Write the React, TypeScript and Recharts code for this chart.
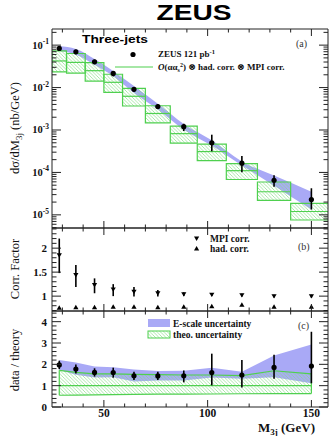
import React from 'react';
import { ComposedChart, XAxis, YAxis, Scatter, ErrorBar, Area, ReferenceArea, ReferenceLine } from 'recharts';

// ---- data ----
const binCenters = [28.5, 36.5, 45.5, 54.5, 64.5, 76, 88.5, 102, 116.5, 132, 150];
const binLow = [25, 32, 41, 50, 59, 70, 82, 95, 109, 124, 140];
const binHigh = [32, 41, 50, 59, 70, 82, 95, 109, 124, 140, 160];
const zeusXsec = [0.0836, 0.0697, 0.0405, 0.0215, 0.0091, 0.00357, 0.0012, 5.0e-4, 1.65e-4, 6.5e-5, 2.3e-5];
const zeusErrUp = [0.1, 0.12, 0.12, 0.14, 0.13, 0.13, 0.17, 0.55, 0.47, 0.32, 0.84];
const zeusErrDown = [0.1, 0.12, 0.12, 0.15, 0.13, 0.13, 0.21, 0.37, 0.39, 0.29, 0.42];
const escaleUp = [1.12, 1.17, 1.17, 1.15, 1.2, 1.16, 1.16, 1.14, 1.1, 1.3, 1.53];
const escaleDown = [0.88, 0.85, 0.85, 0.86, 0.82, 0.85, 0.85, 0.86, 0.88, 0.75, 0.58];
const theoryXsec = [0.0424, 0.0392, 0.025, 0.0133, 0.00623, 0.00245, 8.2e-4, 3.1e-4, 1.1e-4, 3.5e-5, 1.2e-5];
const theoryUp = [1.72, 1.62, 1.55, 1.55, 1.53, 1.52, 1.5, 1.5, 1.47, 1.7, 1.55];
const theoryDown = [0.55, 0.56, 0.57, 0.58, 0.59, 0.6, 0.6, 0.61, 0.62, 0.63, 0.63];
const mpiCorr = [1.85, 1.44, 1.23, 1.14, 1.09, 1.06, 1.04, 1.03, 1.02, 1.0, 1.0];
const mpiErrUp = [0.35, 0.21, 0.14, 0.11, 0.1, 0.07, 0.04, 0.03, 0.03, 0.03, 0.03];
const mpiErrDown = [0.37, 0.25, 0.17, 0.14, 0.1, 0.07, 0.04, 0.03, 0.03, 0.03, 0.03];
const hadCorr = [0.76, 0.77, 0.77, 0.78, 0.78, 0.77, 0.78, 0.79, 0.82, 0.78, 0.78];

const xMajorTicks = [50, 100, 150];
const xMinorTicks = [30, 40, 60, 70, 80, 90, 110, 120, 130, 140];
const corrMajorTicks = [1, 1.5, 2];
const ratioMajorTicks = [0, 1, 2, 3, 4];

const X_DOMAIN: [number, number] = [25, 158];
const A_DOMAIN: [number, number] = [4.9e-6, 0.24];
const B_DOMAIN: [number, number] = [0.69, 2.42];
const C_DOMAIN: [number, number] = [0, 4.5];

const GREEN = '#4fd04f';
const BLUE = '#a9a9f6';
const AXIS = '#222';
const FONT = "'Liberation Serif', 'DejaVu Serif', serif";
const SANS = "'Liberation Sans', Arial, sans-serif";

// ---- derived tables ----
const rows = binCenters.map((x, i) => {
  const y = zeusXsec[i];
  const ratio = y / theoryXsec[i];
  return {
    x,
    y,
    err: [y * zeusErrDown[i], y * zeusErrUp[i]],
    es: [y * escaleDown[i], y * escaleUp[i]],
    ratio,
    ratioErr: [ratio * zeusErrDown[i], ratio * zeusErrUp[i]],
    ratioEs: [ratio * escaleDown[i], ratio * escaleUp[i]],
    theoBand: [theoryDown[i], theoryUp[i]],
    mpi: mpiCorr[i],
    mpiErr: [mpiErrDown[i], mpiErrUp[i]],
    had: hadCorr[i],
  };
});

const xTicks = [...xMajorTicks, ...xMinorTicks].sort((a, b) => a - b);

const logTicks: number[] = [];
for (let d = -6; d <= -1; d++) {
  for (let k = 1; k <= 9; k++) {
    const v = k * Math.pow(10, d);
    if (v >= A_DOMAIN[0] && v <= A_DOMAIN[1]) logTicks.push(v);
  }
}
const isDecade = (v: number) => Math.abs(Math.log10(v) - Math.round(Math.log10(v))) < 1e-6;

const linTicks = (lo: number, hi: number, step: number) => {
  const out: number[] = [];
  for (let v = Math.ceil(lo / step - 1e-9) * step; v <= hi + 1e-9; v += step) out.push(Math.round(v * 1000) / 1000);
  return out;
};
const bTicks = linTicks(B_DOMAIN[0], B_DOMAIN[1], 0.1);
const cTicks = linTicks(C_DOMAIN[0], C_DOMAIN[1], 0.2);

const near = (arr: number[], v: number) => arr.some((a) => Math.abs(a - v) < 1e-6);

// tick renderer factory: ticks drawn inward from the frame
type Orient = 'left' | 'right' | 'top' | 'bottom';
const makeTick = (
  orient: Orient,
  isMajor: (v: number) => boolean,
  majorLen: number,
  minorLen: number,
  label?: (v: number, x: number, y: number) => React.ReactNode
) => (props: any) => {
  const { x, y, payload } = props;
  const v = payload.value;
  const len = isMajor(v) ? majorLen : minorLen;
  let x2 = x, y2 = y;
  if (orient === 'left') x2 = x + len;
  if (orient === 'right') x2 = x - len;
  if (orient === 'top') y2 = y + len;
  if (orient === 'bottom') y2 = y - len;
  return (
    <g>
      <line x1={x} y1={y} x2={x2} y2={y2} stroke={AXIS} strokeWidth={1} />
      {label && isMajor(v) ? label(v, x, y) : null}
    </g>
  );
};

const isXMajor = (v: number) => near(xMajorTicks, v);

const logLabel = (v: number, x: number, y: number) => (
  <text x={x - 3} y={y + 3.5} textAnchor="end" fontFamily={FONT} fontWeight="bold" fontSize={10.5} fill="#111">
    10
    <tspan dy={-4.5} fontSize={7.5}>{String(Math.round(Math.log10(v)))}</tspan>
  </text>
);
const numLabel = (v: number, x: number, y: number) => (
  <text x={x - 5} y={y + 4} textAnchor="end" fontFamily={FONT} fontWeight="bold" fontSize={11} fill="#111">
    {String(v)}
  </text>
);
const xLabel = (v: number, x: number, y: number) => (
  <text x={x} y={y + 10} textAnchor="middle" fontFamily={FONT} fontWeight="bold" fontSize={11.5} fill="#111">
    {String(v)}
  </text>
);

const dot = (p: any) => <circle cx={p.cx} cy={p.cy} r={2.6} fill="#000" />;
const triDown = (p: any) => (
  <path d={`M${p.cx - 2.6},${p.cy - 2} L${p.cx + 2.6},${p.cy - 2} L${p.cx},${p.cy + 2.4} Z`} fill="#000" />
);
const triUp = (p: any) => (
  <path d={`M${p.cx - 2.6},${p.cy + 2} L${p.cx + 2.6},${p.cy + 2} L${p.cx},${p.cy - 2.4} Z`} fill="#000" />
);

const frameAxes = (
  yDomain: [number, number],
  yTicks: number[],
  isYMajor: (v: number) => boolean,
  yLabel: ((v: number, x: number, y: number) => React.ReactNode) | undefined,
  topH: number,
  bottomH: number,
  log: boolean,
  withXLabels: boolean
) => [
  <XAxis key="xb" xAxisId="b" dataKey="x" type="number" domain={X_DOMAIN} allowDataOverflow orientation="bottom"
    height={bottomH} ticks={xTicks} interval={0} tickSize={0} tickMargin={0} tickLine={false}
    axisLine={{ stroke: AXIS }} tick={makeTick('bottom', isXMajor, 7, 3.5, withXLabels ? xLabel : undefined)} />,
  <XAxis key="xt" xAxisId="t" dataKey="x" type="number" domain={X_DOMAIN} allowDataOverflow orientation="top"
    height={topH} ticks={xTicks} interval={0} tickSize={0} tickMargin={0} tickLine={false}
    axisLine={{ stroke: AXIS }} tick={makeTick('top', isXMajor, 7, 3.5)} />,
  <YAxis key="yl" yAxisId="l" type="number" scale={log ? 'log' : 'linear'} domain={yDomain} allowDataOverflow
    orientation="left" width={52} ticks={yTicks} interval={0} tickSize={0} tickMargin={0} tickLine={false}
    axisLine={{ stroke: AXIS }} tick={makeTick('left', isYMajor, 9, 4.5, yLabel)} />,
  <YAxis key="yr" yAxisId="r" type="number" scale={log ? 'log' : 'linear'} domain={yDomain} allowDataOverflow
    orientation="right" width={4} ticks={yTicks} interval={0} tickSize={0} tickMargin={0} tickLine={false}
    axisLine={{ stroke: AXIS }} tick={makeTick('right', isYMajor, 9, 4.5)} />,
];

const PanelA = () => (
  <ComposedChart width={332} height={232} data={rows} margin={{ top: 0, right: 0, bottom: 0, left: 0 }}>
    {frameAxes(A_DOMAIN, logTicks, isDecade, logLabel, 29, 4, true, false)}
    <Area xAxisId="b" yAxisId="l" dataKey="es" type="monotone" stroke="none" fill={BLUE} fillOpacity={1} isAnimationActive={false} />
    {binLow.map((lo, i) => (
      <ReferenceArea key={'ra' + i} xAxisId="b" yAxisId="l" x1={lo} x2={binHigh[i]}
        y1={theoryXsec[i] * theoryDown[i]} y2={theoryXsec[i] * theoryUp[i]}
        fill="url(#hatchG)" fillOpacity={1} stroke={GREEN} strokeWidth={1.2} ifOverflow="hidden" />
    ))}
    {binLow.map((lo, i) => (
      <ReferenceLine key={'rl' + i} xAxisId="b" yAxisId="l"
        segment={[{ x: lo, y: theoryXsec[i] }, { x: binHigh[i], y: theoryXsec[i] }]}
        stroke={GREEN} strokeWidth={1.2} ifOverflow="hidden" />
    ))}
    <Scatter xAxisId="b" yAxisId="l" dataKey="y" shape={dot} isAnimationActive={false}>
      <ErrorBar dataKey="err" direction="y" width={0} stroke="#000" strokeWidth={1.6} />
    </Scatter>
  </ComposedChart>
);

const PanelB = () => (
  <ComposedChart width={332} height={91} data={rows} margin={{ top: 0, right: 0, bottom: 0, left: 0 }}>
    {frameAxes(B_DOMAIN, bTicks, (v) => near(corrMajorTicks, v), numLabel, 4, 4, false, false)}
    <Scatter xAxisId="b" yAxisId="l" dataKey="mpi" shape={triDown} isAnimationActive={false}>
      <ErrorBar dataKey="mpiErr" direction="y" width={0} stroke="#000" strokeWidth={1.6} />
    </Scatter>
    <Scatter xAxisId="b" yAxisId="l" dataKey="had" shape={triUp} isAnimationActive={false} />
  </ComposedChart>
);

const PanelC = () => (
  <ComposedChart width={332} height={116} data={rows} margin={{ top: 0, right: 0, bottom: 0, left: 0 }}>
    {frameAxes(C_DOMAIN, cTicks, (v) => near(ratioMajorTicks, v), numLabel, 4, 16, false, true)}
    <Area xAxisId="b" yAxisId="l" dataKey="ratioEs" type="linear" stroke="none" fill={BLUE} fillOpacity={1} isAnimationActive={false} />
    <Area xAxisId="b" yAxisId="l" dataKey="theoBand" type="linear" stroke={GREEN} strokeWidth={1.2} fill="url(#hatchG)" fillOpacity={1} isAnimationActive={false} />
    <ReferenceLine xAxisId="b" yAxisId="l" segment={[{ x: binCenters[0], y: 1 }, { x: binCenters[binCenters.length - 1], y: 1 }]} stroke={GREEN} strokeWidth={1.2} />
    <ReferenceLine xAxisId="b" yAxisId="l" segment={[{ x: binCenters[0], y: theoryDown[0] }, { x: binCenters[0], y: theoryUp[0] }]} stroke={GREEN} strokeWidth={1.2} />
    <ReferenceLine xAxisId="b" yAxisId="l" segment={[{ x: binCenters[binCenters.length - 1], y: theoryDown[theoryDown.length - 1] }, { x: binCenters[binCenters.length - 1], y: theoryUp[theoryUp.length - 1] }]} stroke={GREEN} strokeWidth={1.2} />
    <Scatter xAxisId="b" yAxisId="l" dataKey="ratio" shape={dot} isAnimationActive={false}>
      <ErrorBar dataKey="ratioErr" direction="y" width={0} stroke="#000" strokeWidth={1.6} />
    </Scatter>
  </ComposedChart>
);

const Overlay = () => (
  <svg width={332} height={436} style={{ position: 'absolute', left: 0, top: 0, pointerEvents: 'none' }}>
    <defs>
      <pattern id="hatchG" patternUnits="userSpaceOnUse" width={3.5} height={3.5}>
        <path d="M-1,-1 L4.5,4.5 M-1,2.5 L1,4.5 M2.5,-1 L4.5,1" stroke="#86df86" strokeWidth={0.7} />
      </pattern>
    </defs>
    <text x={194} y={20} textAnchor="middle" fontFamily={SANS} fontWeight="bold" fontSize={21.5} textLength={75} lengthAdjust="spacingAndGlyphs" fill="#000">ZEUS</text>

    {/* y titles */}
    <text transform="translate(19,128) rotate(-90)" textAnchor="middle" fontFamily={FONT} fontSize={12.5} fill="#111">
      dσ/dM<tspan dy={3} fontSize={9}>3j</tspan><tspan dy={-3}> (nb/GeV)</tspan>
    </text>
    <text transform="translate(19,269) rotate(-90)" textAnchor="middle" fontFamily={FONT} fontSize={12.5} fill="#111">Corr. Factor</text>
    <text transform="translate(19,360) rotate(-90)" textAnchor="middle" fontFamily={FONT} fontSize={12.5} fill="#111">data / theory</text>

    {/* x title */}
    <text x={258} y={432} fontFamily={FONT} fontWeight="bold" fontSize={13} fill="#111">
      M<tspan dy={2.5} fontSize={9}>3j</tspan><tspan dy={-2.5}> (GeV)</tspan>
    </text>

    {/* panel a legend */}
    <text x={82} y={43} fontFamily={SANS} fontWeight="bold" fontSize={11.5} textLength={66} lengthAdjust="spacingAndGlyphs" fill="#000">Three-jets</text>
    <circle cx={133} cy={54.5} r={2.6} fill="#000" />
    <text x={158} y={57} fontFamily={FONT} fontWeight="bold" fontSize={9} fill="#111">
      ZEUS 121 pb<tspan dy={-3} fontSize={6.5}>-1</tspan>
    </text>
    <line x1={115} y1={67} x2={153} y2={67} stroke={GREEN} strokeWidth={1.2} />
    <text x={158} y={70} fontFamily={FONT} fontWeight="bold" fontSize={9} fill="#111">
      <tspan fontStyle="italic">O</tspan>(αα<tspan dy={2} fontSize={6}>s</tspan><tspan dy={-5} fontSize={6}>2</tspan><tspan dy={3}>) ⊗ had. corr. ⊗ MPI corr.</tspan>
    </text>
    <text x={296} y={47} fontFamily={FONT} fontSize={10} fill="#333">(a)</text>

    {/* panel b legend */}
    <path d="M194,236.5 L199.2,236.5 L196.6,240.9 Z" fill="#000" />
    <text x={210} y={242} fontFamily={FONT} fontWeight="bold" fontSize={9.5} fill="#111">MPI corr.</text>
    <path d="M194,250.4 L199.2,250.4 L196.6,246 Z" fill="#000" />
    <text x={210} y={251.5} fontFamily={FONT} fontWeight="bold" fontSize={9.5} fill="#111">had. corr.</text>
    <text x={298} y={250} fontFamily={FONT} fontSize={10} fill="#333">(b)</text>

    {/* panel c legend */}
    <rect x={148} y={319} width={22} height={8} fill={BLUE} />
    <rect x={148} y={331} width={22} height={7} fill="url(#hatchG)" stroke={GREEN} strokeWidth={1} />
    <text x={173} y={327} fontFamily={FONT} fontWeight="bold" fontSize={9.5} fill="#111">E-scale uncertainty</text>
    <text x={173} y={338} fontFamily={FONT} fontWeight="bold" fontSize={9.5} fill="#111">theo. uncertainty</text>
    <text x={298} y={329} fontFamily={FONT} fontSize={10} fill="#333">(c)</text>
  </svg>
);

export default function App() {
  return (
    <div style={{ position: 'absolute', left: 0, top: 0, width: 332, height: 436, background: '#fff', overflow: 'hidden' }}>
      <div style={{ position: 'absolute', left: 0, top: 0 }}><PanelA /></div>
      <div style={{ position: 'absolute', left: 0, top: 224 }}><PanelB /></div>
      <div style={{ position: 'absolute', left: 0, top: 307 }}><PanelC /></div>
      <Overlay />
    </div>
  );
}
